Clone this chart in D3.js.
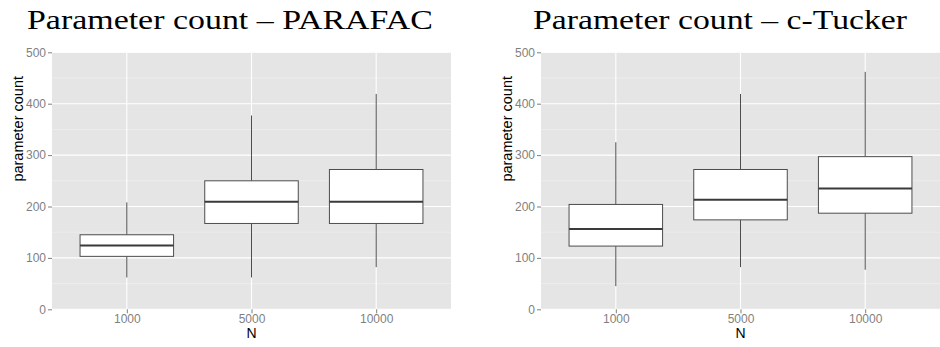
<!DOCTYPE html>
<html>
<head>
<meta charset="utf-8">
<script src="https://cdn.jsdelivr.net/npm/d3@7"></script>
<style>
  body { margin: 0; background: #fff; }
  svg { display: block; }
</style>
</head>
<body>
<div id="chart"></div>
<script>
// sample sizes on the x axis
var categories = ["1000", "5000", "10000"];
var yTicks = [0, 100, 200, 300, 400, 500];
var yMinor = [50, 150, 250, 350, 450];

// box statistics per N: lower whisker, Q1, median, Q3, upper whisker
var parafacLow  = [62, 62, 82];
var parafacQ1   = [103, 167, 167];
var parafacMed  = [124, 209, 209];
var parafacQ3   = [145, 250, 272];
var parafacHigh = [208, 377, 419];

var tuckerLow  = [45, 82, 77];
var tuckerQ1   = [123, 174, 187];
var tuckerMed  = [156, 213, 235];
var tuckerQ3   = [204, 272, 297];
var tuckerHigh = [325, 419, 462];

function boxRows(low, q1, med, q3, high) {
    return categories.map(function(c, i) {
        return {n: c, low: low[i], q1: q1[i], med: med[i], q3: q3[i], high: high[i]};
    });
}

var panels = [
    {title: "Parameter count \u2013 PARAFAC", left: 52, titleX: 27, titleW: 406,
     rows: boxRows(parafacLow, parafacQ1, parafacMed, parafacQ3, parafacHigh)},
    {title: "Parameter count \u2013 c-Tucker", left: 541, titleX: 533, titleW: 374,
     rows: boxRows(tuckerLow, tuckerQ1, tuckerMed, tuckerQ3, tuckerHigh)}
];

var W = 940, H = 347;
var pw = 399, ptop = 52.3, ph = 257;

var svg = d3.select("#chart").append("svg")
    .attr("width", W)
    .attr("height", H);

panels.forEach(function(p) {
    var g = svg.append("g")
        .attr("transform", "translate(" + p.left + "," + ptop + ")");

    var x = d3.scalePoint().domain(categories).range([0, pw]).padding(0.6);
    var y = d3.scaleLinear().domain([0, 500]).range([ph, 0]);
    var bw = x.step() * 0.75;

    // panel background
    g.append("rect")
        .attr("width", pw)
        .attr("height", ph)
        .attr("fill", "#e5e5e5");

    // minor grid
    g.selectAll(".minor").data(yMinor).enter().append("line")
        .attr("x1", 0).attr("x2", pw)
        .attr("y1", function(d) { return y(d); })
        .attr("y2", function(d) { return y(d); })
        .attr("stroke", "#f2f2f2")
        .attr("stroke-width", 0.6);

    // major grid
    g.selectAll(".major").data(yTicks).enter().append("line")
        .attr("x1", 0).attr("x2", pw)
        .attr("y1", function(d) { return y(d); })
        .attr("y2", function(d) { return y(d); })
        .attr("stroke", "#fff")
        .attr("stroke-width", 1.1);

    g.selectAll(".vgrid").data(categories).enter().append("line")
        .attr("x1", function(d) { return x(d); })
        .attr("x2", function(d) { return x(d); })
        .attr("y1", 0).attr("y2", ph)
        .attr("stroke", "#fff")
        .attr("stroke-width", 1.1);

    // boxes
    var box = g.selectAll(".box").data(p.rows).enter().append("g");

    box.append("line")
        .attr("x1", function(d) { return x(d.n); })
        .attr("x2", function(d) { return x(d.n); })
        .attr("y1", function(d) { return y(d.high); })
        .attr("y2", function(d) { return y(d.q3); })
        .attr("stroke", "#4d4d4d")
        .attr("stroke-width", 1);

    box.append("line")
        .attr("x1", function(d) { return x(d.n); })
        .attr("x2", function(d) { return x(d.n); })
        .attr("y1", function(d) { return y(d.q1); })
        .attr("y2", function(d) { return y(d.low); })
        .attr("stroke", "#4d4d4d")
        .attr("stroke-width", 1);

    box.append("rect")
        .attr("x", function(d) { return x(d.n) - bw / 2; })
        .attr("y", function(d) { return y(d.q3); })
        .attr("width", bw)
        .attr("height", function(d) { return y(d.q1) - y(d.q3); })
        .attr("fill", "#fff")
        .attr("stroke", "#4d4d4d")
        .attr("stroke-width", 1);

    box.append("line")
        .attr("x1", function(d) { return x(d.n) - bw / 2; })
        .attr("x2", function(d) { return x(d.n) + bw / 2; })
        .attr("y1", function(d) { return y(d.med); })
        .attr("y2", function(d) { return y(d.med); })
        .attr("stroke", "#3a3a3a")
        .attr("stroke-width", 2);

    // axes
    var yAxis = g.append("g")
        .call(d3.axisLeft(y).tickValues(yTicks).tickSize(4).tickPadding(2));
    var xAxis = g.append("g")
        .attr("transform", "translate(0," + ph + ")")
        .call(d3.axisBottom(x).tickSize(4).tickPadding(1.5));

    [yAxis, xAxis].forEach(function(a) {
        a.select(".domain").remove();
        a.selectAll("line").attr("stroke", "#7f7f7f");
        a.selectAll("text")
            .attr("fill", "#7f7f7f")
            .style("font-family", "'Liberation Sans', Arial, sans-serif")
            .style("font-size", "12px");
    });

    // axis titles
    g.append("text")
        .attr("x", pw / 2)
        .attr("y", ph + 29)
        .attr("text-anchor", "middle")
        .style("font-family", "'Liberation Sans', Arial, sans-serif")
        .style("font-size", "14px")
        .text("N");

    g.append("text")
        .attr("transform", "rotate(-90)")
        .attr("x", -(y(0) + y(500)) / 2 + 52)
        .attr("y", -29)
        .attr("text-anchor", "middle")
        .style("font-family", "'Liberation Sans', Arial, sans-serif")
        .style("font-size", "14.5px")
        .text("parameter count");

    // panel title
    svg.append("text")
        .attr("x", p.titleX)
        .attr("y", 29)
        .attr("textLength", p.titleW)
        .attr("lengthAdjust", "spacingAndGlyphs")
        .style("font-family", "'Liberation Serif', 'DejaVu Serif', serif")
        .style("font-size", "27px")
        .text(p.title);
});
</script>
</body>
</html>
